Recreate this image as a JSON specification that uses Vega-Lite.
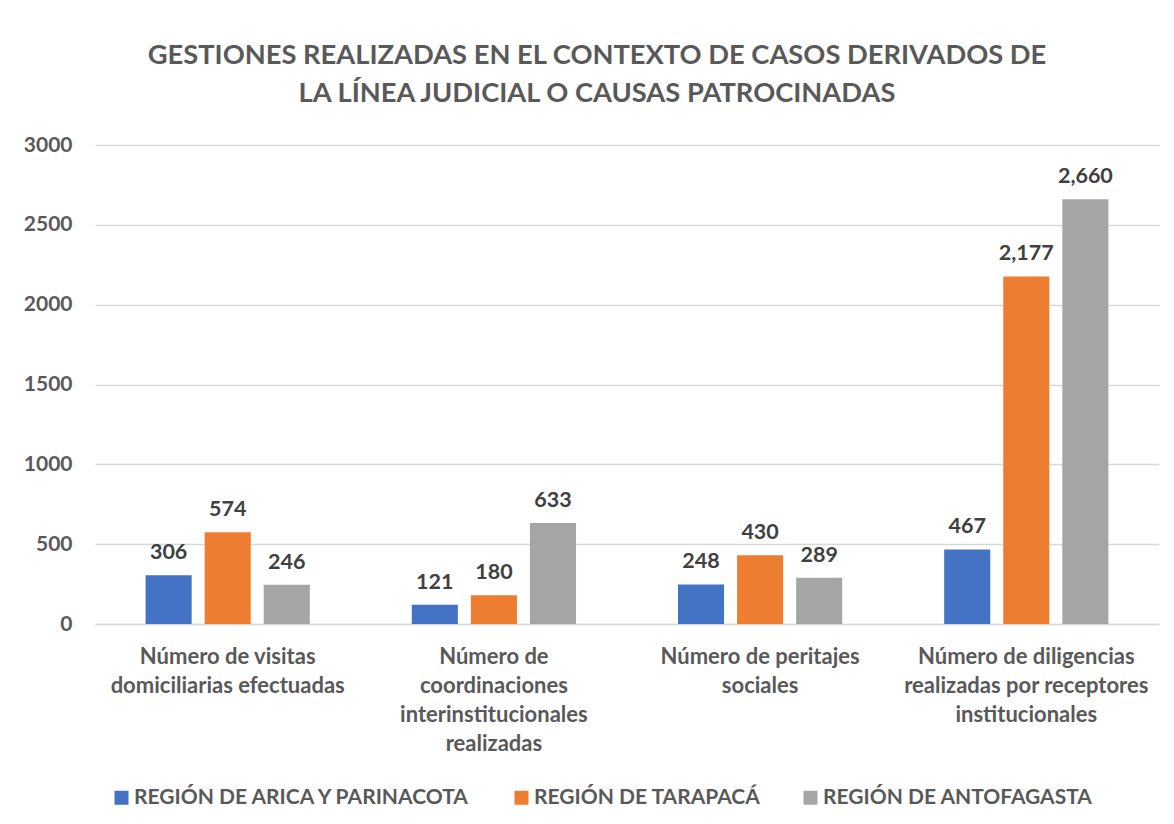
{
  "$schema": "https://vega.github.io/schema/vega-lite/v6.json",
  "width": 1064,
  "height": 479,
  "autosize": "none",
  "padding": {"left": 95, "top": 145, "right": 15, "bottom": 200},
  "background": "white",
  "title": {
    "text": ["GESTIONES REALIZADAS EN EL CONTEXTO DE CASOS DERIVADOS DE", "LA LÍNEA JUDICIAL O CAUSAS PATROCINADAS"],
    "font": "Lato",
    "fontSize": 27.3,
    "fontWeight": "bold",
    "color": "#595959",
    "lineHeight": 38,
    "anchor": "middle",
    "frame": "group",
    "dx": -30,
    "offset": 27
  },
  "data": {
    "values": [
      {"categoria": "Número de visitas|domiciliarias efectuadas", "region": "REGIÓN DE ARICA Y PARINACOTA", "valor": 306},
      {"categoria": "Número de visitas|domiciliarias efectuadas", "region": "REGIÓN DE TARAPACÁ", "valor": 574},
      {"categoria": "Número de visitas|domiciliarias efectuadas", "region": "REGIÓN DE ANTOFAGASTA", "valor": 246},
      {"categoria": "Número de|coordinaciones|interinstitucionales|realizadas", "region": "REGIÓN DE ARICA Y PARINACOTA", "valor": 121},
      {"categoria": "Número de|coordinaciones|interinstitucionales|realizadas", "region": "REGIÓN DE TARAPACÁ", "valor": 180},
      {"categoria": "Número de|coordinaciones|interinstitucionales|realizadas", "region": "REGIÓN DE ANTOFAGASTA", "valor": 633},
      {"categoria": "Número de peritajes|sociales", "region": "REGIÓN DE ARICA Y PARINACOTA", "valor": 248},
      {"categoria": "Número de peritajes|sociales", "region": "REGIÓN DE TARAPACÁ", "valor": 430},
      {"categoria": "Número de peritajes|sociales", "region": "REGIÓN DE ANTOFAGASTA", "valor": 289},
      {"categoria": "Número de diligencias|realizadas por receptores|institucionales", "region": "REGIÓN DE ARICA Y PARINACOTA", "valor": 467},
      {"categoria": "Número de diligencias|realizadas por receptores|institucionales", "region": "REGIÓN DE TARAPACÁ", "valor": 2177},
      {"categoria": "Número de diligencias|realizadas por receptores|institucionales", "region": "REGIÓN DE ANTOFAGASTA", "valor": 2660}
    ]
  },
  "encoding": {
    "x": {
      "field": "categoria",
      "type": "nominal",
      "sort": null,
      "scale": {"paddingInner": 0.383, "paddingOuter": 0.19},
      "axis": {
        "title": null,
        "labelAngle": 0,
        "labelExpr": "split(datum.label, '|')",
        "labelFont": "Lato",
        "labelFontSize": 22,
        "labelFontWeight": "bold",
        "labelColor": "#595959",
        "labelLineHeight": 29,
        "labelPadding": 22,
        "labelLimit": 300,
        "domainColor": "#d9d9d9",
        "domainWidth": 1.5,
        "ticks": false
      }
    },
    "xOffset": {
      "field": "region",
      "type": "nominal",
      "sort": ["REGIÓN DE ARICA Y PARINACOTA", "REGIÓN DE TARAPACÁ", "REGIÓN DE ANTOFAGASTA"],
      "scale": {"paddingInner": 0.22, "paddingOuter": 0}
    },
    "y": {
      "field": "valor",
      "type": "quantitative",
      "scale": {"domain": [0, 3000]},
      "axis": {
        "title": null,
        "values": [0, 500, 1000, 1500, 2000, 2500, 3000],
        "format": "d",
        "labelFont": "Lato",
        "labelFontSize": 21,
        "labelFontWeight": "bold",
        "labelColor": "#595959",
        "labelPadding": 23,
        "domain": false,
        "ticks": false,
        "gridColor": "#d9d9d9",
        "gridWidth": 1.5
      }
    }
  },
  "layer": [
    {
      "mark": {"type": "bar"},
      "encoding": {
        "color": {
          "field": "region",
          "type": "nominal",
          "scale": {
            "domain": ["REGIÓN DE ARICA Y PARINACOTA", "REGIÓN DE TARAPACÁ", "REGIÓN DE ANTOFAGASTA"],
            "range": ["#4472C4", "#ED7D31", "#A5A5A5"]
          },
          "legend": {
            "title": null,
            "orient": "bottom",
            "direction": "horizontal",
            "symbolType": "square",
            "symbolSize": 196,
            "symbolStrokeWidth": 0,
            "labelFont": "Lato",
            "labelFontSize": 21,
            "labelFontWeight": "bold",
            "labelColor": "#595959",
            "labelOffset": 2,
            "columnPadding": 39,
            "padding": 16,
            "offset": 17,
            "labelLimit": 400
          }
        }
      }
    },
    {
      "mark": {"type": "text", "baseline": "alphabetic", "dy": -16, "font": "Lato", "fontSize": 21.5, "fontWeight": "bold", "color": "#404040"},
      "encoding": {
        "text": {"field": "valor", "type": "quantitative", "format": ",d"}
      }
    }
  ],
  "config": {
    "view": {"stroke": null}
  }
}
